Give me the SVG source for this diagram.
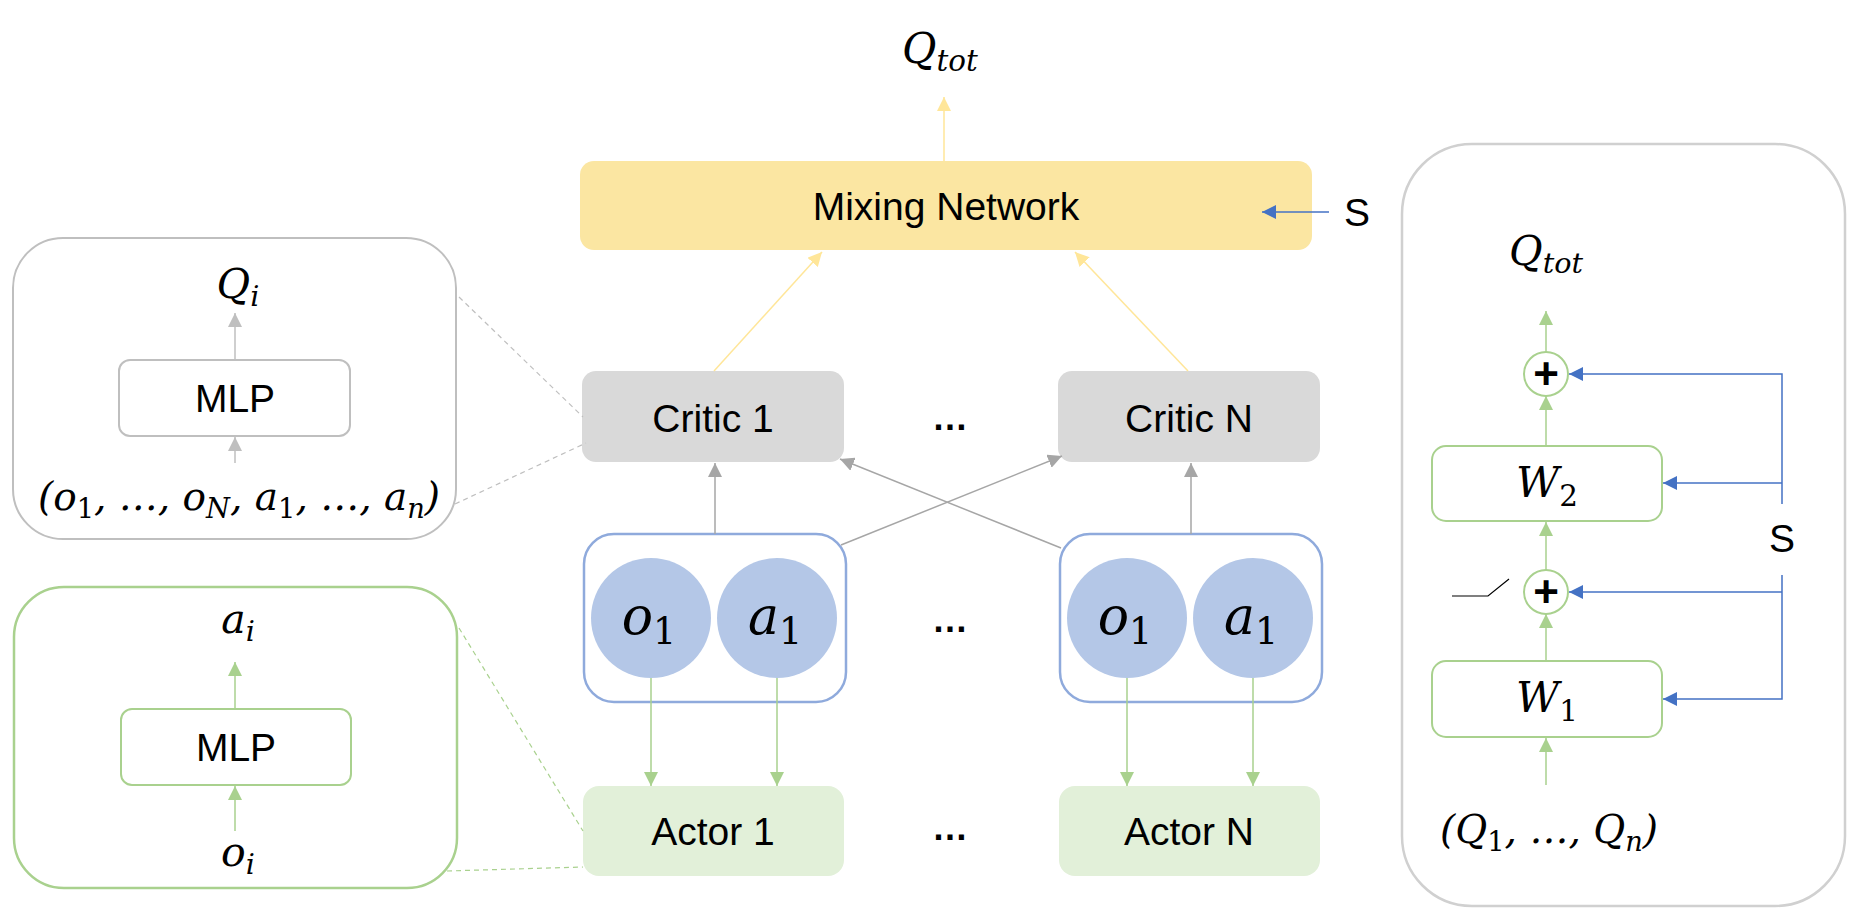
<svg xmlns="http://www.w3.org/2000/svg" width="1862" height="912" viewBox="0 0 1862 912">
<style>
.lbl{font-family:"Liberation Sans",Arial,sans-serif;font-size:39px;fill:#000;text-anchor:middle}
.dots{font-family:"Liberation Sans",Arial,sans-serif;font-size:36px;font-weight:bold;fill:#000;text-anchor:middle}
.m{font-family:"DejaVu Serif",serif;font-style:italic;fill:#000;text-anchor:middle}
.s{font-size:70%}
.d{font-style:normal}
.plus{font-family:"Liberation Sans",Arial,sans-serif;font-weight:bold;font-size:44px;fill:#000;text-anchor:middle}
.cg{stroke:#A6A6A6;stroke-width:1.5;fill:none}
.clg{stroke:#BFBFBF;stroke-width:1.5;fill:none}
.cgr{stroke:#A9D18E;stroke-width:1.5;fill:none}
.cy{stroke:#FFE699;stroke-width:1.5;fill:none}
.cb{stroke:#4472C4;stroke-width:1.5;fill:none}
.dash{stroke-width:1.2;stroke-dasharray:5 4;fill:none}
.grp{fill:#fff;stroke:#8FAADC;stroke-width:2.5}
.circ{fill:#B4C7E7}
.gbox{fill:#fff;stroke:#A9D18E;stroke-width:2}
.pl{fill:#fff;stroke:#A9D18E;stroke-width:2}
</style>
<defs>
<marker id="mg" viewBox="0 0 14 14" refX="14" refY="7" markerWidth="14" markerHeight="14" markerUnits="userSpaceOnUse" orient="auto"><path d="M0,0L14,7L0,14z" fill="#A6A6A6"/></marker>
<marker id="mlg" viewBox="0 0 14 14" refX="14" refY="7" markerWidth="14" markerHeight="14" markerUnits="userSpaceOnUse" orient="auto"><path d="M0,0L14,7L0,14z" fill="#BFBFBF"/></marker>
<marker id="mgr" viewBox="0 0 14 14" refX="14" refY="7" markerWidth="14" markerHeight="14" markerUnits="userSpaceOnUse" orient="auto"><path d="M0,0L14,7L0,14z" fill="#A9D18E"/></marker>
<marker id="my" viewBox="0 0 14 14" refX="14" refY="7" markerWidth="14" markerHeight="14" markerUnits="userSpaceOnUse" orient="auto"><path d="M0,0L14,7L0,14z" fill="#FFE699"/></marker>
<marker id="mb" viewBox="0 0 14 14" refX="14" refY="7" markerWidth="14" markerHeight="14" markerUnits="userSpaceOnUse" orient="auto"><path d="M0,0L14,7L0,14z" fill="#4472C4"/></marker>
</defs>

<rect width="1862" height="912" fill="#fff"/>

<g id="critic-detail">
<rect x="13" y="238" width="443" height="301" rx="50" fill="none" stroke="#BFBFBF" stroke-width="2"/>
<text class="m" x="238" y="298" font-size="41">Q<tspan class="s" dy="8">i</tspan></text>
<rect x="119" y="360" width="231" height="76" rx="11" fill="#fff" stroke="#BFBFBF" stroke-width="2"/>
<text class="lbl" x="235" y="412">MLP</text>
<text class="m" x="239" y="510" font-size="39">(o<tspan class="s d" dy="8">1</tspan><tspan dy="-8">, …, o</tspan><tspan class="s" dy="8">N</tspan><tspan dy="-8">, a</tspan><tspan class="s d" dy="8">1</tspan><tspan dy="-8">, …, a</tspan><tspan class="s" dy="8">n</tspan><tspan dy="-8">)</tspan></text>
</g>

<g id="actor-detail">
<rect x="14" y="587" width="443" height="301" rx="50" fill="none" stroke="#A9D18E" stroke-width="2.5"/>
<text class="m" x="238" y="633" font-size="41">a<tspan class="s" dy="8">i</tspan></text>
<rect x="121" y="709" width="230" height="76" rx="11" class="gbox"/>
<text class="lbl" x="236" y="761">MLP</text>
<text class="m" x="238" y="866" font-size="41">o<tspan class="s" dy="8">i</tspan></text>
</g>

<g id="mixer-detail">
<rect x="1402" y="144" width="443" height="762" rx="70" fill="none" stroke="#D0D0D0" stroke-width="2.5"/>
<text class="m" x="1546" y="265" font-size="41">Q<tspan class="s" dy="8">tot</tspan></text>
<circle cx="1546" cy="374" r="22" class="pl"/>
<text class="plus" x="1546" y="389">+</text>
<rect x="1432" y="446" width="230" height="75" rx="14" class="gbox"/>
<text class="m" x="1547" y="497" font-size="42">W<tspan class="s d" dy="9">2</tspan></text>
<circle cx="1546" cy="592" r="22" class="pl"/>
<text class="plus" x="1546" y="607">+</text>
<rect x="1432" y="661" width="230" height="76" rx="14" class="gbox"/>
<text class="m" x="1547" y="712" font-size="42">W<tspan class="s d" dy="9">1</tspan></text>
<text class="m" x="1549" y="843" font-size="39">(Q<tspan class="s d" dy="8">1</tspan><tspan dy="-8">, …, Q</tspan><tspan class="s" dy="8">n</tspan><tspan dy="-8">)</tspan></text>
<polyline points="1452,596 1488,596 1509,579" fill="none" stroke="#000" stroke-width="1.2"/>
<text class="lbl" x="1782" y="552" font-size="37">S</text>
</g>

<g id="q-tot">
<text class="m" x="940" y="63" font-size="42">Q<tspan class="s" dy="8">tot</tspan></text>
</g>
<g id="mixing-network">
<rect x="580" y="161" width="732" height="89" rx="14" fill="#FBE6A2"/>
<text class="lbl" x="946" y="220">Mixing Network</text>
</g>
<g id="state-s">
<text class="lbl" x="1357" y="226" font-size="37">S</text>
</g>
<g id="critic-1">
<rect x="582" y="371" width="262" height="91" rx="14" fill="#D9D9D9"/>
<text class="lbl" x="713" y="432">Critic 1</text>
</g>
<g id="critic-n">
<rect x="1058" y="371" width="262" height="91" rx="14" fill="#D9D9D9"/>
<text class="lbl" x="1189" y="432">Critic N</text>
</g>
<g id="obs-1">
<rect x="584" y="534" width="262" height="168" rx="30" class="grp"/>
<circle cx="651" cy="618" r="60" class="circ"/>
<circle cx="777" cy="618" r="60" class="circ"/>
<text class="m" x="649" y="634" font-size="52">o<tspan class="s d" dy="10">1</tspan></text>
<text class="m" x="775" y="634" font-size="52">a<tspan class="s d" dy="10">1</tspan></text>
</g>
<g id="obs-n">
<rect x="1060" y="534" width="262" height="168" rx="30" class="grp"/>
<circle cx="1127" cy="618" r="60" class="circ"/>
<circle cx="1253" cy="618" r="60" class="circ"/>
<text class="m" x="1125" y="634" font-size="52">o<tspan class="s d" dy="10">1</tspan></text>
<text class="m" x="1251" y="634" font-size="52">a<tspan class="s d" dy="10">1</tspan></text>
</g>
<g id="actor-1">
<rect x="583" y="786" width="261" height="90" rx="16" fill="#E2F0D9"/>
<text class="lbl" x="713" y="845">Actor 1</text>
</g>
<g id="actor-n">
<rect x="1059" y="786" width="261" height="90" rx="16" fill="#E2F0D9"/>
<text class="lbl" x="1189" y="845">Actor N</text>
</g>
<g id="ellipses">
<text class="dots" x="950" y="430">…</text>
<text class="dots" x="950" y="632">…</text>
<text class="dots" x="950" y="840">…</text>
</g>

<g id="connectors">
<line x1="944" y1="161" x2="944" y2="97" class="cy" marker-end="url(#my)"/>
<line x1="1329" y1="212" x2="1262" y2="212" class="cb" marker-end="url(#mb)"/>
<line x1="714" y1="371" x2="822" y2="252" class="cy" marker-end="url(#my)"/>
<line x1="1188" y1="371" x2="1075" y2="252" class="cy" marker-end="url(#my)"/>
<line x1="715" y1="534" x2="715" y2="463" class="cg" marker-end="url(#mg)"/>
<line x1="1191" y1="534" x2="1191" y2="463" class="cg" marker-end="url(#mg)"/>
<line x1="841" y1="545" x2="1062" y2="456" class="cg" marker-end="url(#mg)"/>
<line x1="1061" y1="548" x2="840" y2="459" class="cg" marker-end="url(#mg)"/>
<line x1="651" y1="678" x2="651" y2="786" class="cgr" marker-end="url(#mgr)"/>
<line x1="777" y1="678" x2="777" y2="786" class="cgr" marker-end="url(#mgr)"/>
<line x1="1127" y1="678" x2="1127" y2="786" class="cgr" marker-end="url(#mgr)"/>
<line x1="1253" y1="678" x2="1253" y2="786" class="cgr" marker-end="url(#mgr)"/>
<line x1="235" y1="360" x2="235" y2="313" class="clg" marker-end="url(#mlg)"/>
<line x1="235" y1="463" x2="235" y2="437" class="clg" marker-end="url(#mlg)"/>
<line x1="459" y1="297" x2="583" y2="417" class="dash" stroke="#BFBFBF"/>
<line x1="455" y1="504" x2="586" y2="443" class="dash" stroke="#BFBFBF"/>
<line x1="235" y1="709" x2="235" y2="662" class="cgr" marker-end="url(#mgr)"/>
<line x1="235" y1="831" x2="235" y2="786" class="cgr" marker-end="url(#mgr)"/>
<line x1="459" y1="628" x2="583" y2="831" class="dash" stroke="#A9D18E"/>
<line x1="447" y1="871" x2="583" y2="867" class="dash" stroke="#A9D18E"/>
<line x1="1546" y1="352" x2="1546" y2="311" class="cgr" marker-end="url(#mgr)"/>
<line x1="1546" y1="446" x2="1546" y2="396" class="cgr" marker-end="url(#mgr)"/>
<line x1="1546" y1="570" x2="1546" y2="522" class="cgr" marker-end="url(#mgr)"/>
<line x1="1546" y1="661" x2="1546" y2="614" class="cgr" marker-end="url(#mgr)"/>
<line x1="1546" y1="785" x2="1546" y2="738" class="cgr" marker-end="url(#mgr)"/>
<path d="M1782,504V374H1569" class="cb" marker-end="url(#mb)"/>
<path d="M1782,483H1663" class="cb" marker-end="url(#mb)"/>
<path d="M1782,575V699H1663" class="cb" marker-end="url(#mb)"/>
<path d="M1782,592H1569" class="cb" marker-end="url(#mb)"/>
</g>
</svg>
